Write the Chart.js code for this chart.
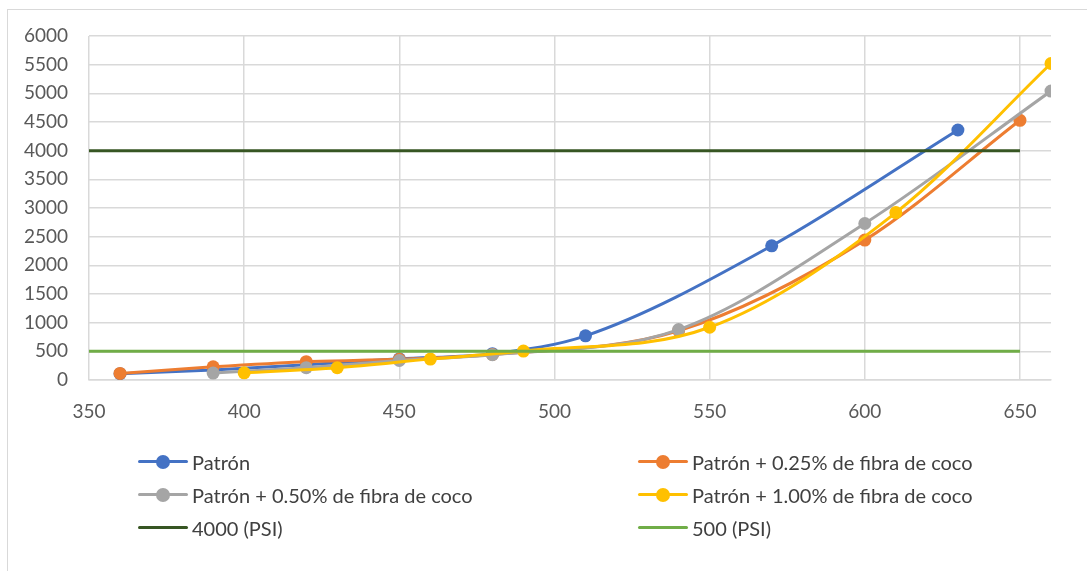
<!DOCTYPE html>
<html>
<head>
<meta charset="utf-8">
<script src="https://cdn.jsdelivr.net/npm/chart.js@4.4.0/dist/chart.umd.min.js"></script>
<style>
    body { margin: 0; background: #fff; font-family: Lato, "Liberation Sans", sans-serif; }
    #wrap { position: relative; width: 1087px; height: 571px; overflow: hidden; }
    #frame { position: absolute; left: 7px; top: 9px; width: 1200px; height: 700px; border-left: 1px solid #d9d9d9; border-top: 1px solid #d9d9d9; }
    #chart { position: absolute; left: 0; top: 0; }
    .leg { position: absolute; display: flex; align-items: center; font-size: 20px; color: #404040; white-space: nowrap; }
    .leg .sw { position: relative; width: 50px; height: 14px; margin-right: 4px; }
    .leg .ln { position: absolute; left: 0; right: 0; top: 5px; height: 3px; border-radius: 2px; }
    .leg .dot { position: absolute; left: 18px; top: 0; width: 14px; height: 14px; border-radius: 50%; }
</style>
</head>
<body>
<div id="wrap">
    <div id="frame"></div>
    <canvas id="chart" width="1087" height="571"></canvas>
    <div id="legend"></div>
</div>
<script>
// Patrón
const xPatron = [360, 390, 420, 450, 480, 510, 570, 630];
const yPatron = [110, 175, 265, 370, 460, 770, 2340, 4360];
// Patrón + 0.25%
const x025 = [360, 390, 420, 450, 480, 540, 600, 650];
const y025 = [115, 230, 320, 360, 445, 860, 2440, 4530];
// Patrón + 0.50%
const x050 = [390, 420, 450, 480, 540, 600, 660];
const y050 = [120, 215, 340, 440, 880, 2730, 5040];
// Patrón + 1.00%
const x100 = [400, 430, 460, 490, 550, 610, 660];
const y100 = [125, 215, 365, 505, 920, 2920, 5520];
// límites (PSI)
const xLimite = [350, 650];
const y4000 = [4000, 4000];
const y500 = [500, 500];

const xTicks = [350, 400, 450, 500, 550, 600, 650];

const nombres = ['Patrón', 'Patrón + 0.25% de fibra de coco', 'Patrón + 0.50% de fibra de coco',
    'Patrón + 1.00% de fibra de coco', '4000 (PSI)', '500 (PSI)'];
const colores = ['#4472c4', '#ed7d31', '#a5a5a5', '#ffc000', '#375623', '#70ad47'];

function pts(xs, ys) { return xs.map((x, i) => ({ x: x, y: ys[i] })); }

const series = [pts(xPatron, yPatron), pts(x025, y025), pts(x050, y050), pts(x100, y100), pts(xLimite, y4000), pts(xLimite, y500)];

const datasets = series.map((d, i) => ({
    label: nombres[i],
    data: d,
    showLine: true,
    borderColor: colores[i],
    backgroundColor: colores[i],
    borderWidth: 3,
    pointRadius: i < 4 ? 6.5 : 0,
    pointHoverRadius: i < 4 ? 6.5 : 0,
    pointBorderWidth: 0,
    cubicInterpolationMode: i < 4 ? 'monotone' : 'default',
    tension: 0,
    order: 5 - i
}));

const ctx = document.getElementById('chart').getContext('2d');
const chart = new Chart(ctx, {
    type: 'scatter',
    data: { datasets: datasets },
    options: {
        responsive: false,
        animation: false,
        layout: { padding: { left: 0, right: 36, top: 36, bottom: 151 } },
        plugins: { legend: { display: false }, tooltip: { enabled: false } },
        scales: {
            x: {
                min: 350, max: 660,
                afterBuildTicks: (axis) => { axis.ticks = xTicks.map(v => ({ value: v })); },
                afterFit: (scale) => { scale.height = 40; },
                grid: { color: '#d9d9d9', lineWidth: 1.5, drawTicks: false },
                border: { color: '#d9d9d9', width: 1.5 },
                ticks: { color: '#595959', font: { family: 'Lato', size: 19 }, padding: 20, maxRotation: 0, callback: (v) => String(v) }
            },
            y: {
                min: 0, max: 6000,
                afterFit: (scale) => { scale.width = 89; },
                grid: { color: '#d9d9d9', lineWidth: 1.5, drawTicks: false },
                border: { display: false },
                ticks: { stepSize: 500, color: '#595959', font: { family: 'Lato', size: 19 }, padding: 21, callback: (v) => String(v) }
            }
        }
    }
});

// leyenda en dos columnas
const posLeyenda = [[138, 462], [638, 462], [138, 495], [638, 495], [138, 528], [638, 528]];
let htmlLeg = '';
chart.data.datasets.forEach((ds, i) => {
    const dot = i < 4 ? `<div class='dot' style='background:${ds.borderColor}'></div>` : '';
    htmlLeg += `<div class='leg' style='left:${posLeyenda[i][0]}px;top:${posLeyenda[i][1] - 12}px;height:24px'><div class='sw'><div class='ln' style='background:${ds.borderColor}'></div>${dot}</div><span>${ds.label}</span></div>`;
});
document.getElementById('legend').innerHTML = htmlLeg;
</script>
</body>
</html>
